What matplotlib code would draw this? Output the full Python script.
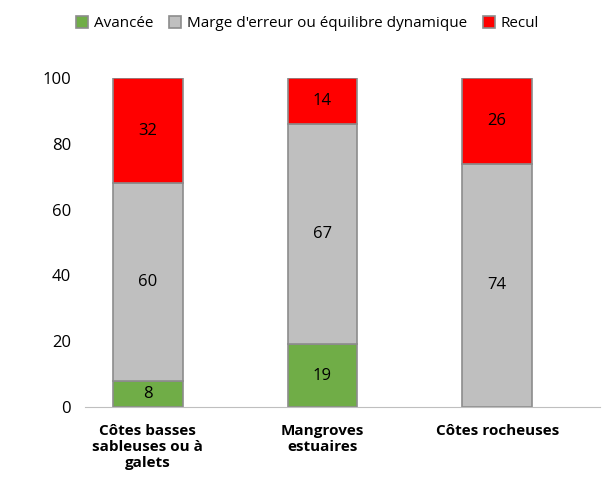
import numpy as np
import matplotlib.pyplot as plt

plt.rcParams['font.family'] = 'Open Sans'

categories = ['Côtes basses\nsableuses ou à\ngalets', 'Mangroves\nestuaires', 'Côtes rocheuses']
avancee = [8, 19, 0]
marge = [60, 67, 74]
recul = [32, 14, 26]

fig = plt.figure(figsize=(6.15, 5), dpi=100)
ax = fig.add_axes([0.138, 0.186, 0.838, 0.658])

x = np.arange(len(categories))
w = 0.4
edge = dict(edgecolor='#8c8c8c', linewidth=1.2)
ax.bar(x, avancee, w, color='#70ad47', label='Avancée', **edge)
ax.bar(x, marge, w, bottom=avancee, color='#bfbfbf',
       label="Marge d'erreur ou équilibre dynamique", **edge)
bottom2 = np.array(avancee) + np.array(marge)
ax.bar(x, recul, w, bottom=bottom2, color='#ff0000', label='Recul', **edge)

for i in range(len(x)):
    if avancee[i]:
        ax.text(x[i], avancee[i] / 2, str(avancee[i]), ha='center', va='center', fontsize=12)
    ax.text(x[i], avancee[i] + marge[i] / 2, str(marge[i]), ha='center', va='center', fontsize=12)
    ax.text(x[i], bottom2[i] + recul[i] / 2, str(recul[i]), ha='center', va='center', fontsize=12)

ax.set_xlim(-0.36, 2.59)
ax.set_ylim(0, 100)
ax.set_yticks(range(0, 101, 20))
ax.set_xticks(x)
ax.set_xticklabels(categories, fontweight='bold', fontsize=11)
ax.tick_params(axis='y', labelsize=12, length=0, pad=10)
ax.tick_params(axis='x', length=0, pad=12)
for s in ['top', 'right', 'left']:
    ax.spines[s].set_visible(False)
ax.spines['bottom'].set_color('#bfbfbf')

fig.legend(loc='upper center', bbox_to_anchor=(0.5, 0.995), ncol=3, frameon=False,
           fontsize=11, handlelength=0.8, handleheight=0.8, columnspacing=1.0, handletextpad=0.4)

fig.savefig('out.png')
